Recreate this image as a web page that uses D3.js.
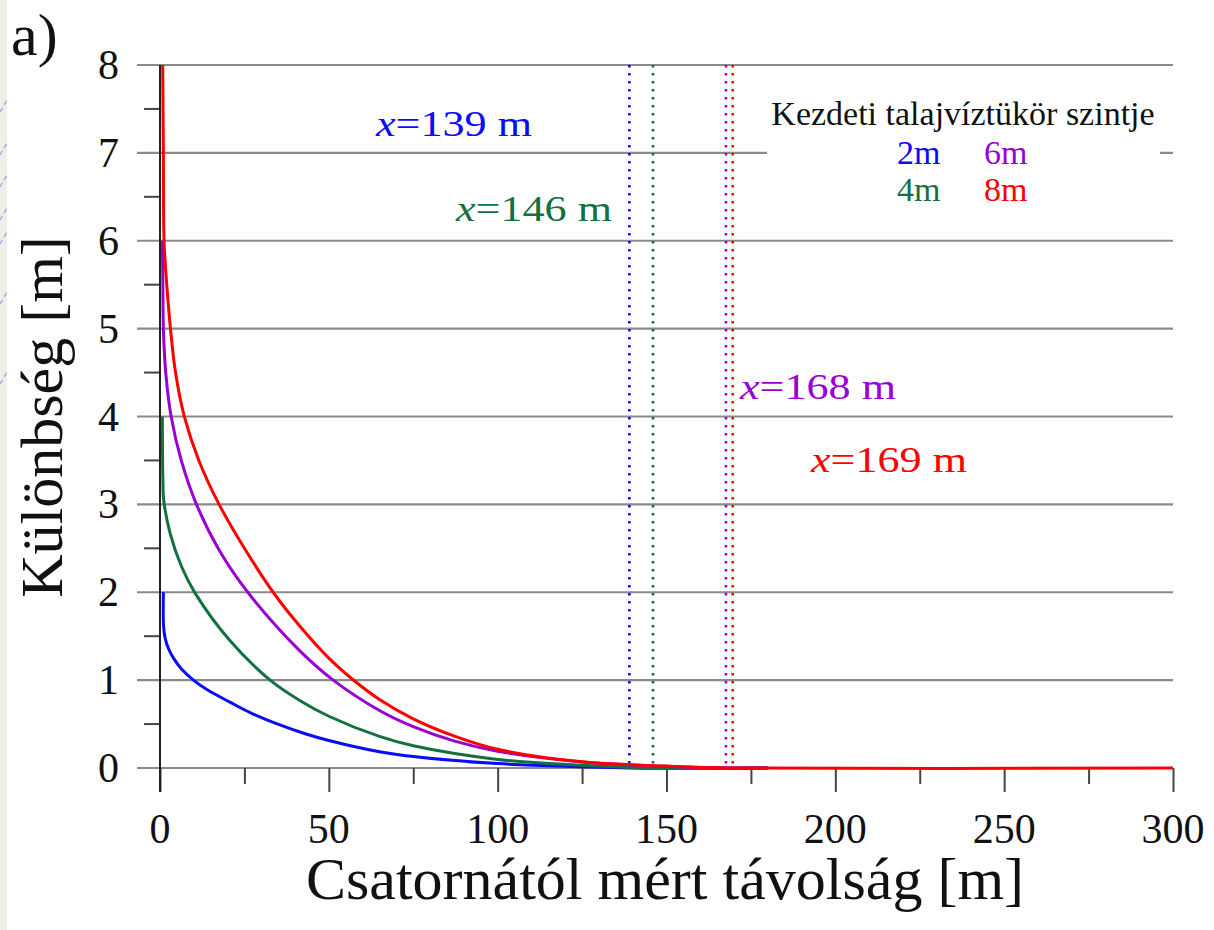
<!DOCTYPE html>
<html>
<head>
<meta charset="utf-8">
<script src="https://cdn.jsdelivr.net/npm/d3@7"></script>
<style>
  html, body { margin: 0; padding: 0; background: #ffffff; }
  svg { display: block; }
  text { font-family: "Liberation Serif", "DejaVu Serif", serif; }
</style>
</head>
<body>
<svg id="chart" width="1214" height="930"></svg>
<script>
// ---- data ----
const xTicks = [0, 50, 100, 150, 200, 250, 300];
const xMinorTicks = [25, 75, 125, 175, 225, 275];
const yTicks = [0, 1, 2, 3, 4, 5, 6, 7, 8];
const yMinorTicks = [0.5, 1.5, 2.5, 3.5, 4.5, 5.5, 6.5, 7.5];

const seriesNames = ["2m", "4m", "6m", "8m"];
const seriesColors = ["#0a0aff", "#137040", "#9a00d2", "#ff0000"];

// initial water table 2 m
const x2 = [1.0, 1.05, 1.5, 2.5, 4.0, 6.5, 9.9, 14, 20.7, 27, 35.5, 43, 50.3, 65, 75, 100, 125, 139, 180];
const y2 = [2.0, 1.62, 1.48, 1.36, 1.25, 1.12, 1.0, 0.89, 0.75, 0.625, 0.49, 0.39, 0.31, 0.185, 0.13, 0.05, 0.014, 0.0, 0.0];

// initial water table 4 m
const x4 = [0.7, 0.75, 0.85, 1.1, 3.0, 6.4, 10.4, 20.7, 32.6, 41.5, 50, 65, 75, 100, 125, 146, 180];
const y4 = [4.0, 3.6, 3.3, 3.05, 2.67, 2.29, 1.99, 1.45, 1.0, 0.766, 0.589, 0.359, 0.253, 0.098, 0.032, 0.0, 0.0];

// initial water table 6 m
const x6 = [0.7, 0.85, 1.0, 1.7, 3.3, 6.3, 10.8, 17.8, 26, 41.5, 51.3, 65, 75, 87, 100, 125, 150, 168, 180];
const y6 = [6.0, 5.5, 5.0, 4.5, 4.0, 3.5, 3.0, 2.46, 2.0, 1.33, 1.0, 0.654, 0.47, 0.309, 0.191, 0.069, 0.02, 0.0, 0.0];

// initial water table 8 m
const x8 = [0.8, 1.0, 1.2, 2.0, 3.1, 4.6, 7.2, 11.5, 17.5, 25, 33.5, 41.5, 50, 57, 65, 75, 87, 100, 125, 150, 169, 300];
const y8 = [8.0, 7.0, 6.0, 5.5, 5.0, 4.5, 4.0, 3.5, 3.0, 2.5, 2.0, 1.61, 1.25, 1.01, 0.78, 0.56, 0.366, 0.213, 0.07, 0.022, 0.0, 0.0];

const markerX = [139, 146, 167.6, 169.6];
const markerLabels = ["139 m", "146 m", "168 m", "169 m"];

const xTitle = "Csatornától mért távolság [m]";
const yTitle = "Különbség [m]";
const legendTitle = "Kezdeti talajvíztükör szintje";
const panelLabel = "a)";

// ---- layout ----
const svg = d3.select("#chart");
const plotL = 160, plotR = 1173, plotT = 65, plotB = 768;
const x = d3.scaleLinear().domain([0, 300]).range([plotL, plotR]);
const y = d3.scaleLinear().domain([0, 8]).range([plotB, plotT]);

// left beige strip with faint decorations
svg.append("rect").attr("x", 0).attr("y", 0).attr("width", 7).attr("height", 930).attr("fill", "#f1eee7");
const decoY = [100, 143, 175, 208, 232, 292, 372];
svg.selectAll("line.deco").data(decoY).enter().append("line")
  .attr("x1", 0).attr("x2", 7).attr("y1", d => d + 12).attr("y2", d => d)
  .attr("stroke", "#9a9af0").attr("stroke-width", 1.2).attr("stroke-dasharray", "5,3");

// grid lines
svg.append("g").selectAll("line").data(yTicks).enter().append("line")
  .attr("x1", 137).attr("x2", plotR)
  .attr("y1", d => y(d)).attr("y2", d => y(d))
  .attr("stroke", "#8a8a8a").attr("stroke-width", 2.2);

// y minor ticks
svg.append("g").selectAll("line").data(yMinorTicks).enter().append("line")
  .attr("x1", 144).attr("x2", plotL)
  .attr("y1", d => y(d)).attr("y2", d => y(d))
  .attr("stroke", "#444").attr("stroke-width", 2);

// x ticks via d3 axis
const xAxis = svg.append("g").attr("transform", `translate(0,${plotB})`)
  .call(d3.axisBottom(x).tickValues(xTicks).tickSize(24).tickFormat(""));
xAxis.select(".domain").remove();
xAxis.selectAll("line").attr("stroke", "#444").attr("stroke-width", 2);
const xMinor = svg.append("g").attr("transform", `translate(0,${plotB})`)
  .call(d3.axisBottom(x).tickValues(xMinorTicks).tickSize(16).tickFormat(""));
xMinor.select(".domain").remove();
xMinor.selectAll("line").attr("stroke", "#444").attr("stroke-width", 2);

// x tick labels
svg.append("g").selectAll("text").data(xTicks).enter().append("text")
  .attr("x", d => x(d)).attr("y", 843)
  .attr("text-anchor", "middle").attr("font-size", 42).attr("fill", "#111")
  .text(d => d);

// y tick labels
svg.append("g").selectAll("text").data(yTicks).enter().append("text")
  .attr("x", 119).attr("y", d => y(d) + 14)
  .attr("text-anchor", "end").attr("font-size", 42).attr("fill", "#111")
  .text(d => d);

// y axis line
svg.append("line").attr("x1", plotL).attr("x2", plotL).attr("y1", plotT).attr("y2", 792)
  .attr("stroke", "#222").attr("stroke-width", 2);

// legend background
svg.append("rect").attr("x", 767).attr("y", 95).attr("width", 393).attr("height", 115).attr("fill", "#ffffff");

// vertical dotted markers
svg.append("g").selectAll("line").data(markerX).enter().append("line")
  .attr("x1", d => x(d)).attr("x2", d => x(d))
  .attr("y1", plotT).attr("y2", plotB)
  .attr("stroke", (d, i) => seriesColors[i])
  .attr("stroke-width", 2.6).attr("stroke-dasharray", "2.6,5.4");

// curves
const xs = [x2, x4, x6, x8];
const ys = [y2, y4, y6, y8];
const line = d3.line().x(d => x(d[0])).y(d => y(d[1])).curve(d3.curveCatmullRom.alpha(0.5));
const series = seriesNames.map((n, i) => ({ name: n, color: seriesColors[i], pts: xs[i].map((v, j) => [v, ys[i][j]]) }));
svg.append("g").selectAll("path").data(series).enter().append("path")
  .attr("d", d => line(d.pts))
  .attr("fill", "none").attr("stroke", d => d.color).attr("stroke-width", 3)
  .attr("stroke-linejoin", "round");

// marker annotations
const annPos = [[376, 136], [456, 221], [740, 399], [811, 472]];
const ann = svg.append("g").selectAll("text").data(markerLabels).enter().append("text")
  .attr("x", (d, i) => annPos[i][0]).attr("y", (d, i) => annPos[i][1])
  .attr("font-size", 35).attr("fill", (d, i) => seriesColors[i])
  .attr("textLength", 156).attr("lengthAdjust", "spacingAndGlyphs");
ann.append("tspan").attr("font-style", "italic").text("x");
ann.append("tspan").text(d => "=" + d);

// legend
svg.append("text").attr("x", 963).attr("y", 125).attr("text-anchor", "middle")
  .attr("font-size", 34).attr("fill", "#111").text(legendTitle);
const legPos = [[897, 164], [897, 201], [984, 164], [984, 201]];
svg.append("g").selectAll("text").data(seriesNames).enter().append("text")
  .attr("x", (d, i) => legPos[i][0]).attr("y", (d, i) => legPos[i][1])
  .attr("font-size", 34).attr("fill", (d, i) => seriesColors[i]).text(d => d);

// titles
svg.append("text").attr("x", 665).attr("y", 899).attr("text-anchor", "middle")
  .attr("font-size", 60).attr("fill", "#111").text(xTitle);
svg.append("text").attr("transform", "translate(62,417) rotate(-90)").attr("text-anchor", "middle")
  .attr("font-size", 60).attr("fill", "#111").text(yTitle);
svg.append("text").attr("x", 11).attr("y", 55).attr("font-size", 60).attr("fill", "#111").text(panelLabel);
</script>
</body>
</html>
